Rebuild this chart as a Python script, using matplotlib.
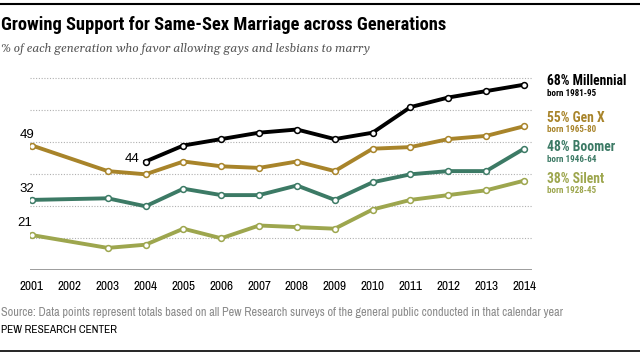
import matplotlib
matplotlib.use("Agg")
import matplotlib.pyplot as plt

# data
years_all = [2001, 2002, 2003, 2004, 2005, 2006, 2007, 2008, 2009, 2010, 2011, 2012, 2013, 2014]
years = [2001, 2003, 2004, 2005, 2006, 2007, 2008, 2009, 2010, 2011, 2012, 2013, 2014]
years_mill = [2004, 2005, 2006, 2007, 2008, 2009, 2010, 2011, 2012, 2013, 2014]

millennial = [44, 49, 51, 53, 54, 51, 53, 61, 64, 66, 68]
genx = [49, 41, 40, 44, 42.5, 42, 44, 41, 48, 48.5, 51, 52, 55]
boomer = [32, 32.5, 30, 35.5, 33.5, 33.5, 36.5, 32, 37.5, 40, 41, 41, 48]
silent = [21, 17, 18, 23, 20, 24, 23.5, 23, 29, 32, 33.5, 35, 38]

names = ["68% Millennial", "55% Gen X", "48% Boomer", "38% Silent"]
born = ["born 1981-95", "born 1965-80", "born 1946-64", "born 1928-45"]
colors = ["#000000", "#A8842A", "#3C7A65", "#9DA64E"]

cond = ["Roboto Condensed", "DejaVu Sans"]
narrow = ["Archivo Narrow", "DejaVu Sans"]
arial = ["Liberation Sans", "DejaVu Sans"]
serif = ["Gelasio", "Liberation Serif", "DejaVu Serif"]

W, H = 640, 355
fig = plt.figure(figsize=(6.4, 3.55), dpi=100)

def fy(y):
    return 1 - y / H

# axes: value 10 at y=270, value 70 at y=78
x0, x1 = 30, 532
ax = fig.add_axes([x0 / W, fy(270.3), (x1 - x0) / W, (270.3 - 78.3 + 6.4) / H])
ax.set_xlim(2001 - 2 / 37.85, 2014 + 8 / 37.85)
ax.set_ylim(10, 72)

for v in [20, 30, 40, 50, 60, 70]:
    ax.axhline(v, color="#b0b0b0", lw=0.8, ls=(0, (1, 1.5)), zorder=0)
ax.axhline(10, color="#8c8c8c", lw=1.2, zorder=1)

series = [(years_mill, millennial), (years, genx), (years, boomer), (years, silent)]
for (xs, ys), c in zip(series[::-1], colors[::-1]):
    ax.plot(xs, ys, color=c, lw=2.8, marker="o", ms=4.2, mfc="white", mec=c,
            mew=1.1, solid_joinstyle="round", zorder=3)

for s in ax.spines.values():
    s.set_visible(False)
ax.set_yticks([])
ax.set_xticks(years_all)
ax.set_xticklabels([str(y) for y in years_all], family=narrow, fontsize=9.5)
ax.tick_params(axis="x", length=0, pad=8)

# start labels
ax.annotate("49", (2001, genx[0]), textcoords="offset pixels", xytext=(-5, 10),
            ha="center", va="center", fontsize=9.5, family=arial)
ax.annotate("32", (2001, boomer[0]), textcoords="offset pixels", xytext=(-5, 11),
            ha="center", va="center", fontsize=9.5, family=arial)
ax.annotate("21", (2001, silent[0]), textcoords="offset pixels", xytext=(-7, 12),
            ha="center", va="center", fontsize=9.5, family=arial)
ax.annotate("44", (2004, millennial[0]), textcoords="offset pixels", xytext=(-13, 3),
            ha="center", va="center", fontsize=9.5, family=arial)

# right-hand labels
label_y = [81, 118, 147, 179]
for name, b, c, y in zip(names, born, colors, label_y):
    fig.text(547 / W, fy(y), name, color=c, fontsize=9.8, fontweight="bold",
             family=cond, va="center", ha="left")
    fig.text(547 / W, fy(y + 12), b, color=c, fontsize=6.5, fontweight="bold",
             family=cond, va="center", ha="left")

# header and footer
fig.add_artist(plt.Line2D([0, 1], [fy(4), fy(4)], color="black", lw=1.5))
fig.text(1 / W, fy(25), "Growing Support for Same-Sex Marriage across Generations",
         fontsize=13.3, fontweight="bold", family=cond, va="center", ha="left")
fig.text(1 / W, fy(49), "% of each generation who favor allowing gays and lesbians to marry",
         fontsize=8.6, style="italic", family=serif,
         color="#555555", va="center", ha="left")
fig.text(1 / W, fy(312), "Source: Data points represent totals based on all Pew Research surveys of the general public conducted in that calendar year",
         fontsize=8.8, family=narrow, color="#8a8a8a", va="center", ha="left")
fig.text(1 / W, fy(330), "PEW RESEARCH CENTER", fontsize=8.2, fontweight="bold",
         family=narrow, va="center", ha="left")
fig.add_artist(plt.Line2D([0, 1], [fy(351), fy(351)], color="black", lw=1.2))

fig.savefig("out.png", dpi=100, facecolor="white")
